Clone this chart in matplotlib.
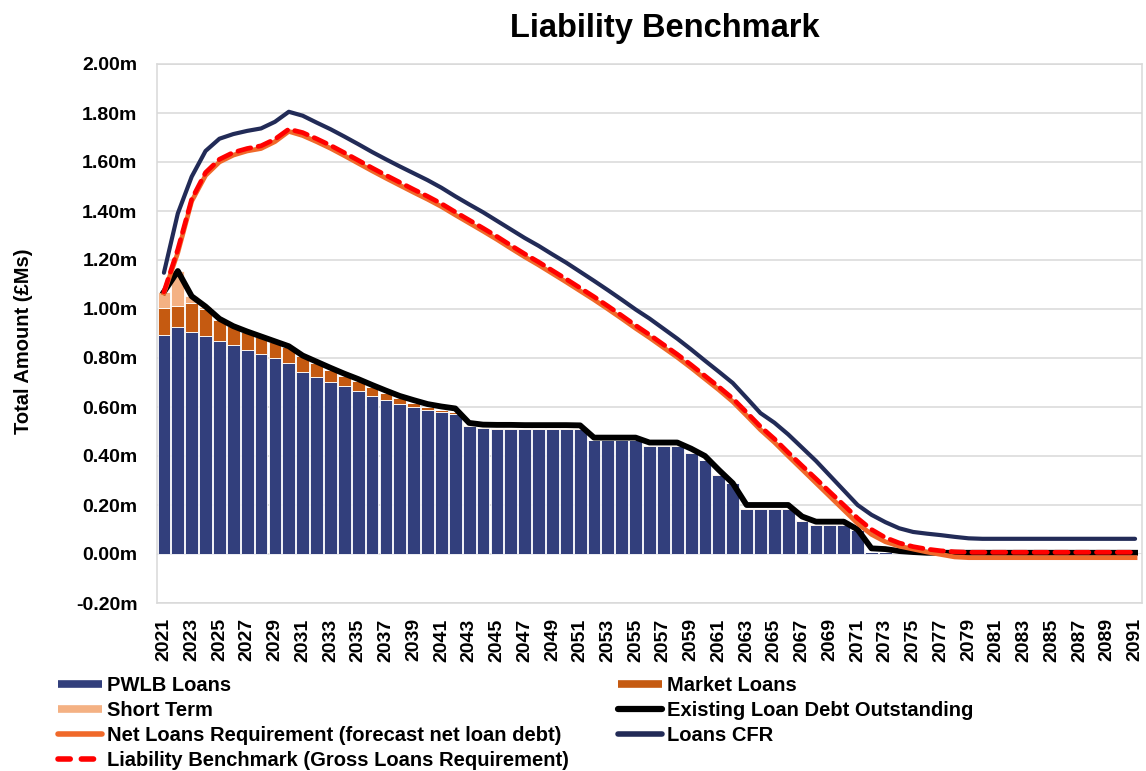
import matplotlib
matplotlib.use("Agg")
import matplotlib.pyplot as plt
from matplotlib.lines import Line2D
import numpy as np

plt.rcParams['font.family'] = ['Liberation Sans', 'DejaVu Sans']
plt.rcParams['font.weight'] = 'bold'

years = list(range(2021, 2092))

pwlb = [0.892, 0.926, 0.905, 0.889, 0.871, 0.853, 0.834, 0.818, 0.799, 0.780,
        0.742, 0.723, 0.703, 0.684, 0.665, 0.646, 0.630, 0.613, 0.600, 0.586,
        0.581, 0.573, 0.521, 0.514, 0.512, 0.512, 0.512, 0.512, 0.512, 0.512,
        0.512, 0.464, 0.464, 0.464, 0.464, 0.442, 0.442, 0.442, 0.413, 0.382,
        0.323, 0.289, 0.184, 0.184, 0.184, 0.184, 0.136, 0.119, 0.119, 0.119,
        0.098, 0.008, 0.008, 0.006, 0.005] + [0.0] * 16

market = [0.113, 0.088, 0.120, 0.111, 0.086, 0.077, 0.071, 0.068, 0.065, 0.064,
          0.065, 0.057, 0.050, 0.044, 0.040, 0.036, 0.027, 0.024, 0.016, 0.013,
          0.008, 0.005, 0.005, 0.004] + [0.002] * 27 + [0.0] * 20

short_term = [0.064, 0.140, 0.027, 0.010] + [0.0] * 67

existing = [1.070, 1.155, 1.052, 1.010, 0.960, 0.930, 0.908, 0.888, 0.868, 0.848,
            0.810, 0.785, 0.760, 0.736, 0.714, 0.690, 0.667, 0.645, 0.628, 0.612,
            0.602, 0.594, 0.535, 0.528, 0.527, 0.527, 0.526, 0.526, 0.526, 0.526,
            0.525, 0.475, 0.475, 0.475, 0.475, 0.455, 0.455, 0.455, 0.430, 0.400,
            0.343, 0.289, 0.200, 0.200, 0.200, 0.200, 0.153, 0.132, 0.132, 0.132,
            0.100, 0.023, 0.020, 0.012, 0.008] + [0.005] * 16

net_req = [1.065, 1.230, 1.440, 1.545, 1.600, 1.628, 1.645, 1.655, 1.683, 1.725,
           1.708, 1.683, 1.656, 1.626, 1.595, 1.564, 1.534, 1.505, 1.476, 1.448,
           1.418, 1.384, 1.351, 1.318, 1.284, 1.248, 1.213, 1.180, 1.145, 1.110,
           1.074, 1.038, 1.000, 0.961, 0.921, 0.883, 0.843, 0.803, 0.760, 0.715,
           0.670, 0.622, 0.565, 0.507, 0.456, 0.400, 0.345, 0.290, 0.235, 0.180,
           0.125, 0.080, 0.050, 0.032, 0.020, 0.008, -0.002, -0.012] + [-0.015] * 13

cfr = [1.148, 1.390, 1.540, 1.645, 1.695, 1.714, 1.727, 1.737, 1.764, 1.805,
       1.789, 1.761, 1.734, 1.704, 1.673, 1.641, 1.611, 1.582, 1.554, 1.526,
       1.495, 1.460, 1.427, 1.395, 1.360, 1.325, 1.290, 1.258, 1.223, 1.189,
       1.152, 1.115, 1.077, 1.038, 0.998, 0.961, 0.920, 0.879, 0.835, 0.789,
       0.744, 0.698, 0.637, 0.575, 0.536, 0.488, 0.434, 0.380, 0.320, 0.260,
       0.200, 0.160, 0.130, 0.105, 0.090, 0.083, 0.077, 0.070, 0.064] + [0.062] * 12

benchmark = [1.070, 1.243, 1.448, 1.557, 1.611, 1.639, 1.655, 1.666, 1.693, 1.734,
             1.720, 1.695, 1.668, 1.638, 1.607, 1.576, 1.546, 1.517, 1.488, 1.460,
             1.430, 1.396, 1.363, 1.330, 1.296, 1.260, 1.225, 1.192, 1.157, 1.122,
             1.086, 1.050, 1.012, 0.973, 0.933, 0.895, 0.855, 0.815, 0.772, 0.727,
             0.682, 0.635, 0.578, 0.520, 0.470, 0.414, 0.360, 0.307, 0.253, 0.200,
             0.146, 0.100, 0.067, 0.045, 0.030, 0.020, 0.013, 0.009] + [0.007] * 13

c_pwlb = "#323F7C"
c_market = "#C55A11"
c_short = "#F4B183"
c_net = "#F0692A"
c_cfr = "#222B57"
c_red = "#FF0000"

fig = plt.figure(figsize=(11.46, 7.71), dpi=100)
ax = fig.add_axes([157 / 1146, 1 - 603 / 771, (1142 - 157) / 1146, (603 - 64) / 771])

x = np.arange(len(years))
pwlb_a = np.array(pwlb)
market_a = np.array(market)

ax.bar(x, pwlb, width=0.92, color=c_pwlb, edgecolor="white", linewidth=0.6, zorder=2)
ax.bar(x, market, bottom=pwlb_a, width=0.92, color=c_market, edgecolor="white", linewidth=0.6, zorder=2)
ax.bar(x, short_term, bottom=pwlb_a + market_a, width=0.92, color=c_short, edgecolor="white", linewidth=0.6, zorder=2)

ax.plot(x, existing, color="black", lw=4.2, zorder=3, solid_joinstyle="round")
ax.plot(x, net_req, color=c_net, lw=3.4, zorder=4, solid_joinstyle="round")
ax.plot(x, cfr, color=c_cfr, lw=3.0, zorder=4, solid_joinstyle="round", solid_capstyle="round")
ax.plot(x, benchmark, color=c_red, lw=3.4, zorder=5, dashes=(2.8, 1.6), dash_capstyle="round")

ax.set_xlim(-0.5, len(years) - 0.5)
ax.set_ylim(-0.2, 2.0)
yt = np.arange(-0.2, 2.01, 0.2)
ax.set_yticks(yt)
ax.set_yticklabels([f"{v:.2f}m" for v in yt], fontsize=14, fontweight="bold")
ax.set_xticks(x[::2])
ax.set_xticklabels([str(y) for y in years[::2]], rotation=90, fontsize=14, fontweight="bold")
ax.tick_params(axis="both", length=0)
ax.tick_params(axis="y", pad=14)
ax.tick_params(axis="x", pad=11)

ax.grid(axis="y", color="#D9D9D9", lw=1.1, zorder=0)
ax.set_axisbelow(True)
for s in ax.spines.values():
    s.set_color("#D9D9D9")
    s.set_linewidth(1.1)

fig.text(665 / 1146, 1 - 28 / 771, "Liability Benchmark", fontsize=23.5, fontweight="bold",
         ha="center", va="center")
fig.text(24 / 1146, 1 - 341 / 771, "Total Amount (£Ms)", fontsize=14.5, fontweight="bold",
         rotation=90, ha="center", va="center")

handles = [
    Line2D([], [], color=c_pwlb, lw=5.5, solid_capstyle="butt"),
    Line2D([], [], color=c_short, lw=5.5, solid_capstyle="butt"),
    Line2D([], [], color=c_net, lw=4, solid_capstyle="round"),
    Line2D([], [], color=c_red, lw=4, dashes=(2.2, 2.0), dash_capstyle="round"),
    Line2D([], [], color=c_market, lw=5.5, solid_capstyle="butt"),
    Line2D([], [], color="black", lw=4.5, solid_capstyle="round"),
    Line2D([], [], color=c_cfr, lw=4, solid_capstyle="round"),
]
labels = [
    "PWLB Loans",
    "Short Term",
    "Net Loans Requirement (forecast net loan debt)",
    "Liability Benchmark (Gross Loans Requirement)",
    "Market Loans",
    "Existing Loan Debt Outstanding",
    "Loans CFR",
]
fig.legend(handles, labels, loc="upper left", bbox_to_anchor=(58 / 1146, 1 - 676 / 771),
           ncol=2, frameon=False, borderpad=0, borderaxespad=0, handlelength=2.2,
           handletextpad=0.25, columnspacing=2.4, labelspacing=0.3,
           prop={"size": 14.5, "weight": "bold"})

fig.savefig("out.png", dpi=100)
